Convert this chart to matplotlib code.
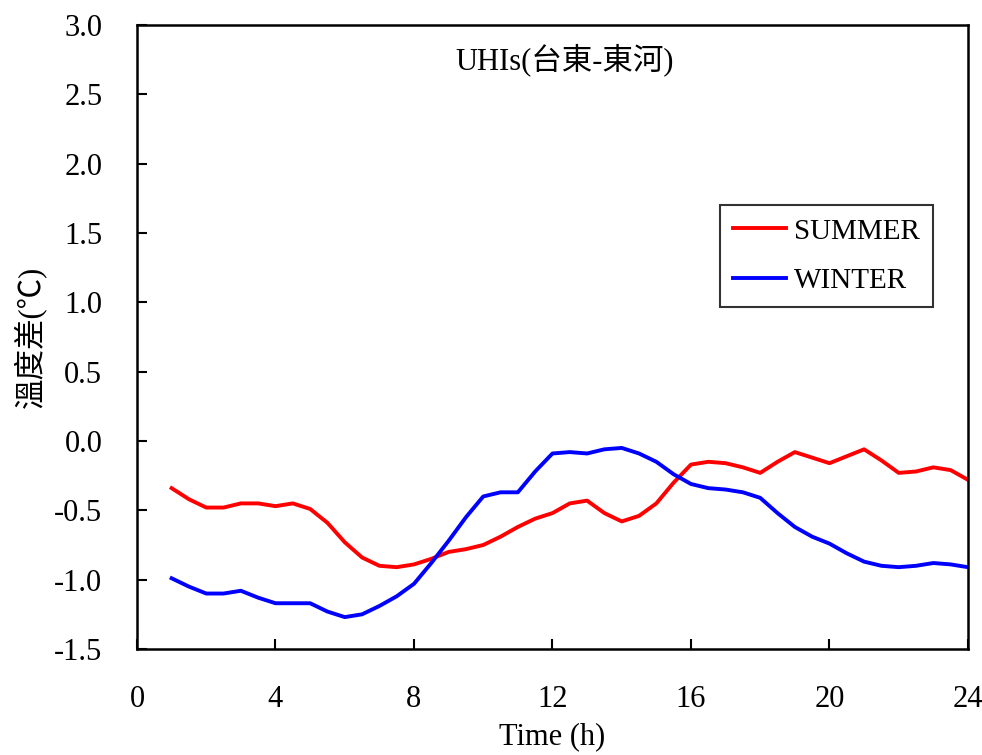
import matplotlib
matplotlib.use("Agg")
import matplotlib.pyplot as plt
import numpy as np

plt.rcParams['font.family'] = ['Liberation Serif', 'Noto Sans CJK TC', 'DejaVu Sans']

hours = [1, 1.5, 2, 2.5, 3, 3.5, 4, 4.5, 5, 5.5, 6, 6.5, 7, 7.5, 8, 8.5, 9, 9.5,
         10, 10.5, 11, 11.5, 12, 12.5, 13, 13.5, 14, 14.5, 15, 15.5, 16, 16.5,
         17, 17.5, 18, 18.5, 19, 19.5, 20, 20.5, 21, 21.5, 22, 22.5, 23, 23.5, 24]

summer = [-0.34, -0.42, -0.48, -0.48, -0.45, -0.45, -0.47, -0.45, -0.49, -0.59,
          -0.73, -0.84, -0.90, -0.91, -0.89, -0.85, -0.80, -0.78, -0.75, -0.69,
          -0.62, -0.56, -0.52, -0.45, -0.43, -0.52, -0.58, -0.54, -0.45, -0.30,
          -0.17, -0.15, -0.16, -0.19, -0.23, -0.15, -0.08, -0.12, -0.16, -0.11,
          -0.06, -0.14, -0.23, -0.22, -0.19, -0.21, -0.28]

winter = [-0.99, -1.05, -1.10, -1.10, -1.08, -1.13, -1.17, -1.17, -1.17, -1.23,
          -1.27, -1.25, -1.19, -1.12, -1.03, -0.88, -0.72, -0.55, -0.40, -0.37,
          -0.37, -0.22, -0.09, -0.08, -0.09, -0.06, -0.05, -0.09, -0.15, -0.24,
          -0.31, -0.34, -0.35, -0.37, -0.41, -0.52, -0.62, -0.69, -0.74, -0.81,
          -0.87, -0.90, -0.91, -0.90, -0.88, -0.89, -0.91]

x_ticks = [0, 4, 8, 12, 16, 20, 24]
y_ticks = [-1.5, -1.0, -0.5, 0.0, 0.5, 1.0, 1.5, 2.0, 2.5, 3.0]
series_labels = ["SUMMER", "WINTER"]
title_text = "UHIs(台東-東河)"
xlabel_text = "Time (h)"
ylabel_text = "溫度差(℃)"

fig = plt.figure(figsize=(9.82, 7.55), dpi=100)
ax = fig.add_axes([0.1395, 0.1404, 0.8462, 0.8265])

ax.plot(hours, summer, color='#ff0000', lw=2.8, label=series_labels[0],
        solid_joinstyle='round')
ax.plot(hours, winter, color='#0000ff', lw=2.8, label=series_labels[1],
        solid_joinstyle='round')

ax.set_xlim(0, 24)
ax.set_ylim(-1.5, 3.0)
ax.set_xticks(x_ticks)
ax.set_yticks(y_ticks)
ax.set_yticklabels([f"{v:.1f}" for v in y_ticks])
ax.tick_params(direction='in', length=7, width=1.5, labelsize=22)
ax.tick_params(axis='y', pad=25)
ax.tick_params(axis='x', pad=26)
for s in ax.spines.values():
    s.set_linewidth(1.8)

ax.set_xlabel(xlabel_text, fontsize=22, labelpad=6)
ax.set_ylabel(ylabel_text, fontsize=22, labelpad=6)
ax.text(0.515, 0.945, title_text, transform=ax.transAxes, ha='center', va='center', fontsize=22)

leg = ax.legend(loc='upper left', bbox_to_anchor=(0.7016, 0.7115), fontsize=21,
                frameon=True, fancybox=False, edgecolor='black', handlelength=1.8,
                handletextpad=0.3, borderpad=0.45, labelspacing=0.8, borderaxespad=0)
leg.get_frame().set_linewidth(1.5)

fig.savefig("out.png", dpi=100)
